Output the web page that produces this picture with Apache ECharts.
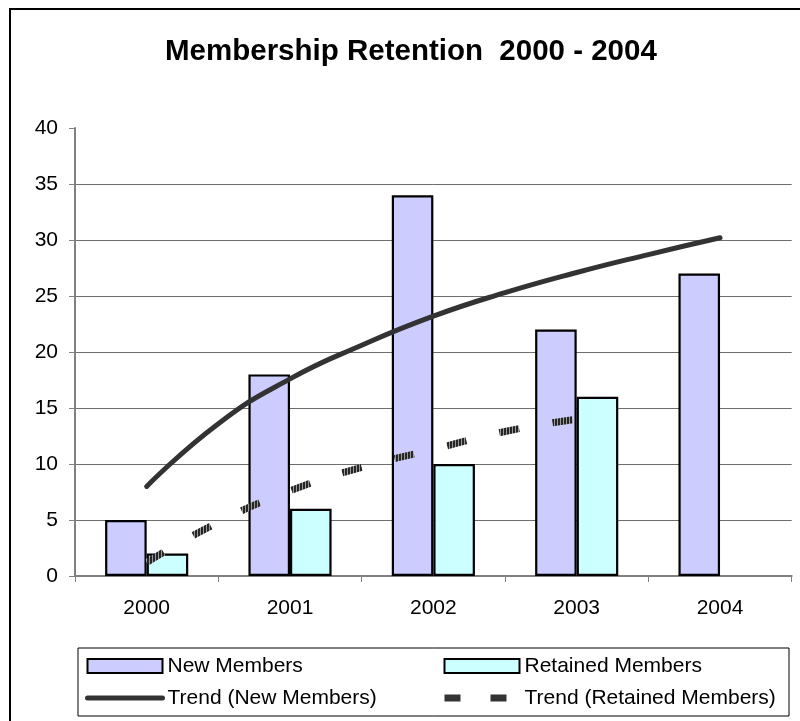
<!DOCTYPE html>
<html>
<head>
<meta charset="utf-8">
<script src="https://cdn.jsdelivr.net/npm/echarts@6/dist/echarts.min.js"></script>
<style>
html,body{margin:0;padding:0;background:#fff;}
#chart{width:800px;height:721px;}
</style>
</head>
<body>
<div id="chart"></div>
<script>
const categories = ['2000', '2001', '2002', '2003', '2004'];
const newMembers = [5, 18, 34, 22, 27];
const retainedMembers = [2, 6, 10, 16, null];
// trend lines at category positions (1 = 2000 ... 5 = 2004)
const trendNewPos = [1, 1.5, 2, 2.5, 3, 3.5, 4, 4.5, 5];
const trendNewVal = [8.0, 13.6, 17.6, 20.6, 23.2, 25.3, 27.1, 28.7, 30.2];
const trendRetPos = [1, 1.5, 2, 2.5, 3, 3.5, 4];
const trendRetVal = [1.2, 4.8, 7.6, 9.7, 11.3, 12.9, 14.0];
const yTicks = {min: 0, max: 40, interval: 5};

const FONT = '"Liberation Sans", Arial, sans-serif';

// hatch pattern for the retained trend dashes
const pc = document.createElement('canvas');
pc.width = 3; pc.height = 3;
const pctx = pc.getContext('2d');
pctx.fillStyle = '#9a9a9a'; pctx.fillRect(0, 0, 3, 3);
pctx.fillStyle = '#262626'; pctx.fillRect(0, 0, 2, 3);

const legendText = {fontSize: 21, lineHeight: 21, color: '#000', fontFamily: FONT};

const chart = echarts.init(document.getElementById('chart'), null, {renderer: 'canvas'});
chart.setOption({
  animation: false,
  backgroundColor: '#fff',
  textStyle: {fontFamily: FONT},
  title: {
    text: 'Membership Retention  2000 - 2004',
    left: 160,
    top: 32,
    textStyle: {fontSize: 29.5, fontWeight: 'bold', color: '#000', fontFamily: FONT}
  },
  grid: {left: 75, right: 8.3, top: 128, bottom: 145, containLabel: false},
  xAxis: [{
    type: 'category',
    data: categories,
    axisLine: {lineStyle: {color: '#808080', width: 2}},
    axisTick: {show: true, length: 6, lineStyle: {color: '#808080', width: 1}},
    axisLabel: {fontSize: 21, color: '#000', margin: 22, fontFamily: FONT},
    splitLine: {show: false}
  }, {
    type: 'value',
    min: 0.5, max: 5.5,
    show: false,
    splitLine: {show: false}
  }],
  yAxis: {
    type: 'value',
    min: yTicks.min, max: yTicks.max, interval: yTicks.interval,
    axisLine: {show: true, lineStyle: {color: '#808080', width: 2}},
    axisTick: {show: true, length: 6, lineStyle: {color: '#808080', width: 1}},
    axisLabel: {fontSize: 21, color: '#000', margin: 17, fontFamily: FONT},
    splitLine: {show: true, showMaxLine: false, lineStyle: {color: '#6e6e6e', width: 1}}
  },
  legend: [{
    orient: 'vertical',
    left: 85, top: 655.5, padding: 0,
    itemWidth: 75, itemHeight: 14, itemGap: 11, itemTextGap: 4,
    textStyle: legendText,
    data: [
      {name: 'New Members', icon: 'rect'},
      {name: 'Trend (New Members)', itemStyle: {opacity: 0},
       lineStyle: {color: '#333333', width: 5, cap: 'round'}}
    ]
  }, {
    orient: 'vertical',
    left: 441, top: 655.5, padding: 0,
    itemWidth: 75, itemHeight: 14, itemGap: 11, itemTextGap: 4,
    textStyle: legendText,
    data: [
      {name: 'Retained Members', icon: 'rect'},
      {name: 'Trend (Retained Members)', itemStyle: {opacity: 0},
       lineStyle: {color: '#333333', width: 7, type: [16, 30], cap: 'butt'}}
    ]
  }],
  graphic: [{
    type: 'rect',
    shape: {x: 10, y: 9, width: 900, height: 900},
    style: {fill: 'none', stroke: '#000', lineWidth: 2},
    silent: true, z: -1
  }, {
    type: 'rect',
    shape: {x: 78, y: 648, width: 711, height: 68},
    style: {fill: 'none', stroke: '#000', lineWidth: 1},
    silent: true
  }],
  series: [{
    name: 'New Members',
    type: 'bar',
    data: newMembers,
    barGap: '0%',
    barCategoryGap: '42%',
    itemStyle: {color: '#CCCCFF', borderColor: '#000', borderWidth: 2.2}
  }, {
    name: 'Retained Members',
    type: 'bar',
    data: retainedMembers,
    barGap: '0%',
    barCategoryGap: '42%',
    itemStyle: {color: '#CCFFFF', borderColor: '#000', borderWidth: 2.2}
  }, {
    name: 'Trend (New Members)',
    type: 'line',
    xAxisIndex: 1,
    data: trendNewPos.map((p, i) => [p, trendNewVal[i]]),
    smooth: true,
    symbol: 'none',
    lineStyle: {color: '#333333', width: 5, cap: 'round'},
    itemStyle: {color: '#333333'},
    z: 5
  }, {
    name: 'Trend (Retained Members)',
    type: 'line',
    xAxisIndex: 1,
    data: trendRetPos.map((p, i) => [p, trendRetVal[i]]),
    smooth: true,
    symbol: 'none',
    lineStyle: {color: {image: pc, repeat: 'repeat'}, width: 7, type: [20, 34]},
    itemStyle: {color: '#333333'},
    z: 5
  }]
});
</script>
</body>
</html>
